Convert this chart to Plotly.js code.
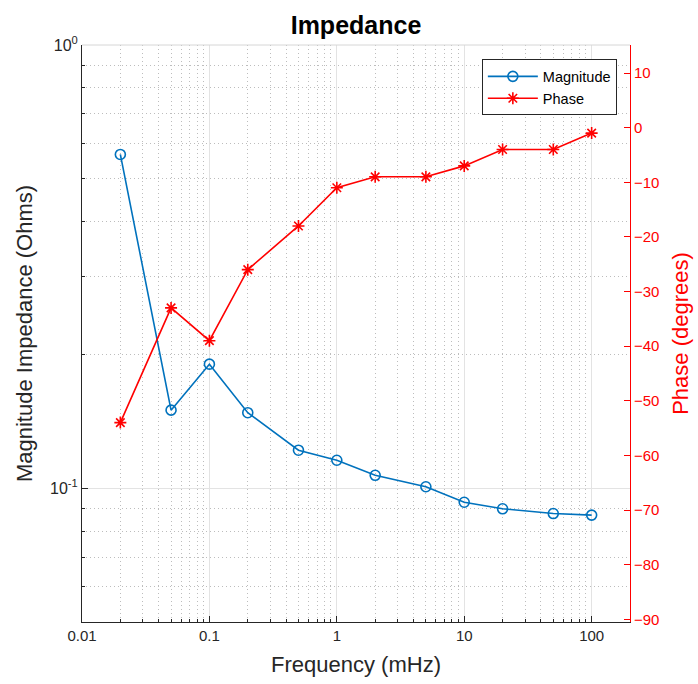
<!DOCTYPE html>
<html>
<head>
<meta charset="utf-8">
<script src="https://cdn.plot.ly/plotly-3.0.1.min.js"></script>
<style>
  html, body { margin: 0; padding: 0; background: #ffffff; }
  #chart { width: 698px; height: 684px; }
</style>
</head>
<body>
<div id="chart"></div>
<script>
// Impedance sweep: frequency in mHz, magnitude in Ohms, phase in degrees
const frequency = [0.02, 0.05, 0.1, 0.2, 0.5, 1, 2, 5, 10, 20, 50, 100];
const magnitude = [0.5665, 0.1502, 0.1907, 0.1482, 0.1220, 0.1158, 0.1071, 0.1009, 0.0931, 0.0900, 0.0878, 0.0871];
const phase = [-54, -33, -39, -26, -18, -11, -9, -9, -7, -4, -4, -1];

const xTickVals = [0.01, 0.1, 1, 10, 100];
const xTickText = ['0.01', '0.1', '1', '10', '100'];
const yTickVals = [0.1, 1];
const yTickText = ['10<sup>-1</sup>', '10<sup>0</sup>'];
const phaseTicks = [-90, -80, -70, -60, -50, -40, -30, -20, -10, 0, 10];

// minor log ticks (2..9 in every decade)
function minorLogTicks(lo, hi) {
  const out = [];
  for (let d = lo; d < hi; d++) {
    for (let m = 2; m <= 9; m++) out.push(m * Math.pow(10, d));
  }
  return out;
}

const axisGray = '#262626';
const blue = '#0072BD';
const red = '#FF0000';
const fontFamily = 'Liberation Sans, Arial, Helvetica, sans-serif';

const traces = [
  {
    x: frequency, y: magnitude, name: 'Magnitude',
    type: 'scatter', mode: 'lines+markers',
    xaxis: 'x', yaxis: 'y',
    line: { color: blue, width: 1.6 },
    marker: { symbol: 'circle-open', size: 10, color: blue, line: { width: 1.6, color: blue } }
  },
  {
    x: frequency, y: phase, name: 'Phase',
    type: 'scatter', mode: 'lines+markers',
    xaxis: 'x', yaxis: 'y2',
    line: { color: red, width: 1.6 },
    marker: { symbol: 'asterisk-open', size: 10, color: red, line: { width: 1.6, color: red } }
  }
];

const layout = {
  width: 698, height: 684,
  margin: { l: 82, r: 68, t: 45, b: 62 },
  paper_bgcolor: '#ffffff', plot_bgcolor: '#ffffff',
  font: { family: fontFamily, color: axisGray, size: 15 },
  showlegend: true,
  title: {
    text: 'Impedance',
    font: { family: fontFamily, size: 25, color: '#000000', weight: 'bold' },
    x: 356 / 698, xanchor: 'center', xref: 'container',
    y: 1 - 25 / 684, yanchor: 'middle', yref: 'container'
  },
  xaxis: {
    type: 'log', range: [-2, Math.log10(200)],
    tickmode: 'array', tickvals: xTickVals, ticktext: xTickText,
    ticks: 'inside', ticklen: 6, tickcolor: axisGray, tickwidth: 1,
    showline: true, linecolor: axisGray, linewidth: 1, mirror: false,
    showgrid: true, gridcolor: '#e3e3e3', gridwidth: 1,
    zeroline: false,
    tickfont: { size: 15, color: axisGray },
    automargin: false,
    minor: {
      tickmode: 'array', tickvals: minorLogTicks(-2, 3).filter(v => v <= 200),
      ticks: 'inside', ticklen: 3, tickcolor: axisGray,
      showgrid: true, gridcolor: '#bdbdbd', griddash: '1px,3px', gridwidth: 1
    },
    title: { text: 'Frequency (mHz)', font: { size: 22, color: axisGray }, standoff: 13 }
  },
  yaxis: {
    type: 'log', range: [Math.log10(0.05), 0],
    tickmode: 'array', tickvals: yTickVals, ticktext: yTickText,
    ticks: 'inside', ticklen: 6, tickcolor: axisGray, tickwidth: 1,
    showline: true, linecolor: axisGray, linewidth: 1,
    showgrid: true, gridcolor: '#e3e3e3', gridwidth: 1,
    zeroline: false,
    tickfont: { size: 16, color: axisGray },
    automargin: false,
    minor: {
      tickmode: 'array', tickvals: minorLogTicks(-2, 0).filter(v => v >= 0.05),
      ticks: 'inside', ticklen: 3, tickcolor: axisGray,
      showgrid: true, gridcolor: '#bdbdbd', griddash: '1px,3px', gridwidth: 1
    },
    title: { text: 'Magnitude Impedance (Ohms)', font: { size: 22, color: axisGray }, standoff: 11 }
  },
  yaxis2: {
    overlaying: 'y', side: 'right',
    range: [-90.5, 15.13],
    tickmode: 'array', tickvals: phaseTicks,
    ticks: 'inside', ticklen: 6, tickcolor: red, tickwidth: 1,
    showline: true, linecolor: red, linewidth: 1,
    showgrid: false, zeroline: false,
    tickfont: { size: 15, color: red },
    automargin: false,
    title: { text: 'Phase (degrees)', font: { size: 22, color: red }, standoff: 14 }
  },
  legend: {
    x: 0.976, xanchor: 'right', y: 0.975, yanchor: 'top',
    bgcolor: '#ffffff', bordercolor: axisGray, borderwidth: 1,
    font: { size: 14.5, color: '#000000' },
    itemwidth: 50,
    tracegroupgap: 0
  },
  shapes: [
    {
      type: 'line', xref: 'paper', yref: 'paper',
      x0: 0, x1: 1, y0: 1, y1: 1,
      line: { color: '#d6d6d6', width: 1 }
    }
  ]
};

Plotly.newPlot('chart', traces, layout, { displayModeBar: false, staticPlot: true });
</script>
</body>
</html>
